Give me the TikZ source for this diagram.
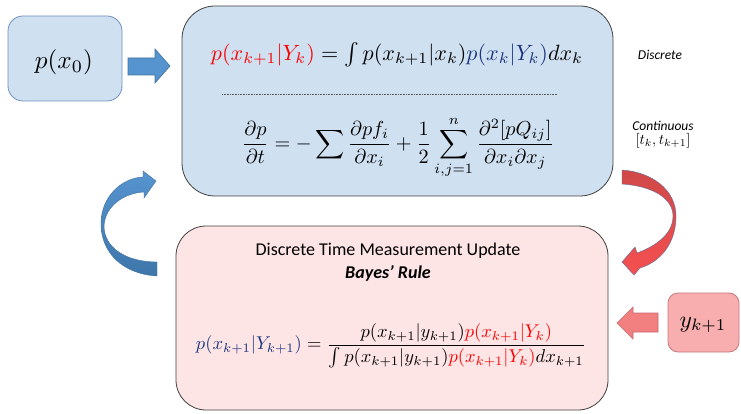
\documentclass[tikz,border=0pt]{standalone}
\usepackage{fontspec}
\setmainfont{Carlito}
\usepackage{amsmath}
\usepackage{graphicx}
\definecolor{boxblue}{RGB}{207,224,241}
\definecolor{pzeroborder}{RGB}{110,145,190}
\definecolor{darkborder}{RGB}{64,64,64}
\definecolor{pinkfill}{RGB}{253,228,229}
\definecolor{yfill}{RGB}{248,174,174}
\definecolor{yborder}{RGB}{200,120,125}
\definecolor{arrowblue}{RGB}{86,148,208}
\definecolor{arrowbluedark}{RGB}{62,118,170}
\definecolor{arrowblueborder}{RGB}{65,113,156}
\definecolor{redtop}{RGB}{208,72,72}
\definecolor{redbot}{RGB}{245,80,80}
\definecolor{redborder}{RGB}{95,110,150}
\definecolor{pinkarrow}{RGB}{242,128,128}
\definecolor{pinkarrowborder}{RGB}{195,105,115}
\definecolor{mred}{RGB}{255,0,0}
\definecolor{mblue}{RGB}{28,52,125}
\tikzset{
  roundbox/.style={draw, line width=0.8pt, inner sep=0pt},
  label/.style={inner sep=0pt, anchor=center},
  blockarrow/.style={line width=0.6pt},
}
\begin{document}
\begin{tikzpicture}[x=1pt,y=-1pt]
\useasboundingbox (0,0) rectangle (741,414);

% boxes
\node[roundbox, draw=pzeroborder, fill=boxblue, rounded corners=15pt,
      minimum width=114pt, minimum height=85pt] (pzero) at (65,58.5) {};
\node[roundbox, draw=darkborder, fill=boxblue, rounded corners=33pt,
      minimum width=431pt, minimum height=190pt] (pred) at (397.5,101) {};
\node[roundbox, draw=darkborder, fill=pinkfill, rounded corners=30pt,
      minimum width=432pt, minimum height=184pt] (upd) at (392,318) {};
\node[roundbox, draw=yborder, fill=yfill, rounded corners=10pt,
      minimum width=71pt, minimum height=59pt] (ybox) at (703.5,322.5) {};

% texts in boxes
\node[label] (pzerotext) at (64,62) {\resizebox{58pt}{!}{$p(x_0)$}};
\node[label] (ytext) at (703,325) {\resizebox{47pt}{!}{$y_{k+1}$}};

\node[label] (eqone) at (397,55) {\resizebox{372pt}{!}{$\color{mred}p(x_{k+1}|Y_k)\color{black} = \int p(x_{k+1}|x_k)\color{mblue}p(x_k|Y_k)\color{black}dx_k$}};
\coordinate (dotl) at (222,94);
\coordinate (dotr) at (557,94);
\draw[gray!70!black, line width=0.6pt, dash pattern=on 0.8pt off 0.8pt] (dotl) -- (dotr);
\node[label] (eqtwo) at (398,147) {\resizebox{312pt}{!}{$\displaystyle\frac{\partial p}{\partial t} = -\sum \frac{\partial p f_i}{\partial x_i} + \frac{1}{2}\sum_{i,j=1}^{n}\frac{\partial^2[pQ_{ij}]}{\partial x_i \partial x_j}$}};

\node[label, font=\fontsize{18}{20}\selectfont] (updtitle) at (388,251) {Discrete Time Measurement Update};
\node[label, font=\fontsize{18}{20}\selectfont\bfseries\itshape] (bayes) at (388,273) {Bayes’ Rule};
\node[label] (eqthree) at (391,346) {\resizebox{390pt}{!}{$\color{mblue}p(x_{k+1}|Y_{k+1})\color{black} = \dfrac{p(x_{k+1}|y_{k+1})\color{mred}p(x_{k+1}|Y_k)}{\int p(x_{k+1}|y_{k+1})\color{mred}p(x_{k+1}|Y_k)\color{black}dx_{k+1}}$}};

% side labels
\node[label, font=\fontsize{13.5}{15}\selectfont\itshape] (disc) at (660,55) {Discrete};
\node[label, font=\fontsize{13.5}{15}\selectfont\itshape] (cont) at (663,126) {Continuous};
\node[label] (interval) at (663,141) {\resizebox{55pt}{!}{$[t_k,t_{k+1}]$}};

% straight blue arrow p0 -> prediction
\draw[blockarrow, draw=arrowblueborder, fill=arrowblue]
  (128,58) -- (155,58) -- (155,49) -- (170,66) -- (155,83) -- (155,75) -- (128,75) -- cycle;

% pink arrow y -> update
\draw[blockarrow, draw=pinkarrowborder, fill=pinkarrow]
  (658,313) -- (633,313) -- (633,307) -- (617,323) -- (633,339) -- (633,332) -- (658,332) -- cycle;

% curved blue arrow update -> prediction
\shadedraw[top color=arrowblue, bottom color=arrowbluedark, draw=arrowblueborder, line width=0.4pt]
  (157,276) .. controls (122,274) and (101,252) .. (101,224)
  .. controls (101,196) and (122,178) .. (143,177)
  -- (143,171) -- (156,181) -- (144,198) -- (144,192)
  .. controls (124,193) and (105,206) .. (104,226)
  .. controls (104,247) and (125,262) .. (157,262) -- cycle;

% curved red arrow prediction -> update
\shadedraw[top color=redtop, bottom color=redbot, draw=redborder, line width=0.4pt]
  (622,170) .. controls (652,172) and (676,190) .. (676,216)
  .. controls (676,244) and (660,262) .. (640,268)
  -- (634,275) -- (622,262) -- (635,247) -- (637,253)
  .. controls (656,246) and (673,234) .. (673,216)
  .. controls (673,198) and (652,186) .. (622,184) -- cycle;

\end{tikzpicture}
\end{document}
